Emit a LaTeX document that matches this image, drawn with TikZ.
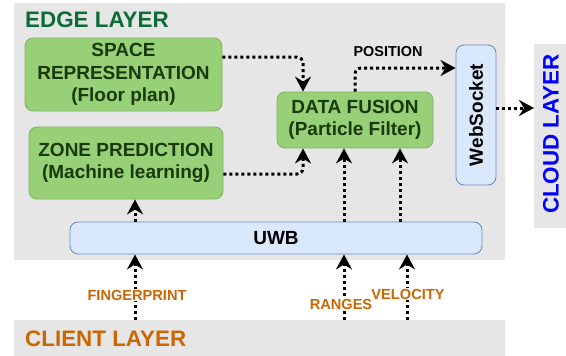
\documentclass[tikz,border=0pt]{standalone}
\usepackage{fontspec}
\setmainfont{Liberation Sans}
\usepackage{graphicx}
\usetikzlibrary{arrows.meta}
\definecolor{layergray}{HTML}{E6E6E6}
\definecolor{gfill}{HTML}{97D077}
\definecolor{gdraw}{HTML}{82B366}
\definecolor{gtext}{HTML}{183A0C}
\definecolor{bfill}{HTML}{DAE8FC}
\definecolor{bdraw}{HTML}{6C8EBF}
\definecolor{edgecol}{HTML}{0B6B3A}
\definecolor{orng}{HTML}{CC6600}
\definecolor{cloudblue}{HTML}{0000FF}
\begin{document}
\begin{tikzpicture}[x=1pt,y=-1pt,
  layer/.style={rectangle, fill=layergray, draw=none, inner sep=0pt},
  boxbase/.style={rectangle, rounded corners=8pt, line width=0.9pt, align=center, inner sep=0pt,
    font=\fontsize{19}{22.5}\selectfont\bfseries},
  gbox/.style={boxbase, fill=gfill, draw=gdraw, text=gtext},
  bbox/.style={boxbase, fill=bfill, draw=bdraw, text=black},
  flow/.style={line width=3pt, dash pattern=on 3pt off 3pt, rounded corners=6pt,
    -{Stealth[length=15pt,width=16pt,inset=5pt]}},
  lbl/.style={font=\fontsize{14.6}{15}\selectfont\bfseries, text=orng, fill=white, inner sep=1pt},
  title/.style={font=\fontsize{22.4}{25}\selectfont\bfseries, inner sep=0pt}
]
\useasboundingbox (0,0) rectangle (566,356);

% layers
\node[layer, anchor=north west, minimum width=491pt, minimum height=257pt] (edge) at (14,3) {};
\node[layer, anchor=north west, minimum width=491pt, minimum height=36pt] (client) at (14,320) {};
\node[layer, anchor=north west, minimum width=32pt, minimum height=184pt] (cloud) at (534,44) {};

\node[title, text=edgecol, anchor=west] (edgetitle) at (25,19.5) {EDGE LAYER};
\node[title, text=orng, anchor=west] (clienttitle) at (25,338.5) {CLIENT LAYER};
\node[title, text=cloudblue, rotate=90] (cloudtitle) at (551,134) {CLOUD LAYER};

% boxes
\node[gbox, minimum width=197pt, minimum height=73pt] (space) at (123.5,74.5)
  {SPACE\\REPRESENTATION\\(Floor plan)};
\node[gbox, minimum width=194pt, minimum height=72pt] (zone) at (126,163)
  {ZONE PREDICTION\\(Machine learning)};
\node[gbox, minimum width=156pt, minimum height=56pt] (fusion) at (355,120)
  {DATA FUSION\\(Particle Filter)};
\node[bbox, minimum width=40pt, minimum height=140pt] (ws) at (476,115)
  {\rotatebox{90}{WebSocket}};
\node[bbox, minimum width=412pt, minimum height=32pt] (uwb) at (276,238) {UWB};

% helper coordinates
\coordinate (xfp) at (135,0);
\coordinate (xr) at (344,0);
\coordinate (xv) at (407,0);
\coordinate (xv2) at (400,0);
\coordinate (wsout) at ([yshift=7pt]ws.east);

% edge-layer arrows
\draw[flow] ([yshift=17.5pt]space.east) -| ([xshift=-52pt]fusion.north);
\draw[flow] ([yshift=-11pt]zone.east) -| ([xshift=-52pt]fusion.south);
\draw[flow] (fusion.north) |- ([yshift=47pt]ws.west);
\node[font=\fontsize{14.4}{15}\selectfont\bfseries, inner sep=0pt] (poslbl) at (388,52) {POSITION};
\draw[flow] (wsout) -- (wsout -| cloud.west);
\draw[flow] (uwb.north -| xfp) -- (zone.south -| xfp);
\draw[flow] (uwb.north -| xr) -- (fusion.south -| xr);
\draw[flow] (uwb.north -| xv2) -- (fusion.south -| xv2);

% client arrows
\draw[flow] (client.north -| xfp) -- (uwb.south -| xfp);
\draw[flow] (client.north -| xr) -- (uwb.south -| xr);
\draw[flow] (client.north -| xv) -- (uwb.south -| xv);
\node[lbl] (fplbl) at (137,295) {FINGERPRINT};
\node[lbl] (rlbl) at (341,304) {RANGES};
\node[lbl] (vlbl) at (408,294) {VELOCITY};
\end{tikzpicture}
\end{document}
